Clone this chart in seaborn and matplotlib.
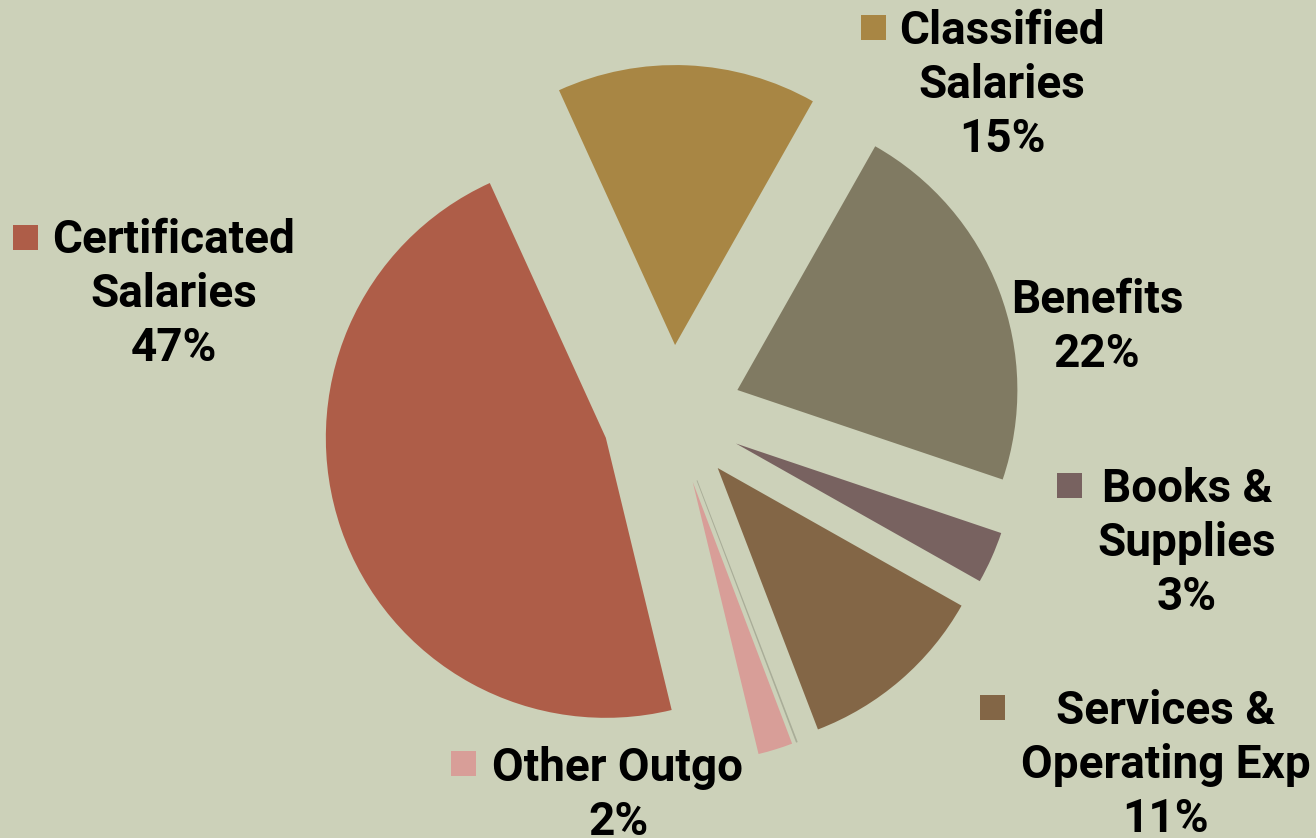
import matplotlib.pyplot as plt
import seaborn as sns
from matplotlib.patches import Rectangle

# Dados do gráfico (percentuais do orçamento)
categories = ["Certificated\nSalaries", "Classified\nSalaries", "Benefits",
              "Books &\nSupplies", "Services &\nOperating Exp", "", "Other Outgo"]
values = [47, 15, 22, 3, 11, 0.05, 2]
colors = ["#AE5D48", "#A88644", "#807A62", "#786260", "#836646", "#C4C8B2", "#D89E98"]
show_key = [True, True, False, True, True, False, True]

# posições dos rótulos em pixels (centro do bloco) e das caixinhas da legenda
label_pos = [(174, 294), (1002, 85), (1097, 327), (1187, 543), (1166, 765), None, (618, 795)]
key_pos = [(13, 225), (861, 15), None, (1057, 473), (980, 695), None, (451, 751)]

W, H = 1316, 838
bg = "#CCD1B9"

sns.set_theme(style="white")
plt.rcParams['font.family'] = ['Roboto', 'DejaVu Sans']

fig = plt.figure(figsize=(W / 100, H / 100), dpi=100, facecolor=bg)
ax = fig.add_axes([0, 0, 1, 1])
ax.set_facecolor(bg)

# centro da pizza em (672, 415) px, raio 280 px
r = 280
cx, cy = 672, 415
ax.pie(values, colors=colors, startangle=283.6, counterclock=False,
       explode=[0.25] * len(values), radius=1,
       wedgeprops=dict(linewidth=0.6, edgecolor="none"))
ax.patches[5].set_edgecolor("#A9AD98")

ax.set_xlim(-cx / r, (W - cx) / r)
ax.set_ylim(-(H - cy) / r, cy / r)
ax.set_aspect('equal')
ax.axis('off')

for name, val, pos, key, col, k in zip(categories, values, label_pos, key_pos, colors, show_key):
    if pos is None:
        continue
    fig.text(pos[0] / W, 1 - pos[1] / H, f"{name}\n{val:.0f}%", ha='center', va='center',
             multialignment='center', fontsize=33, fontweight='bold', color='black',
             linespacing=1.29)
    if k:
        fig.add_artist(Rectangle((key[0] / W, 1 - (key[1] + 25) / H), 25 / W, 25 / H,
                                 transform=fig.transFigure, facecolor=col, edgecolor='none'))

fig.savefig("out.png", dpi=100, facecolor=bg)
plt.close(fig)
